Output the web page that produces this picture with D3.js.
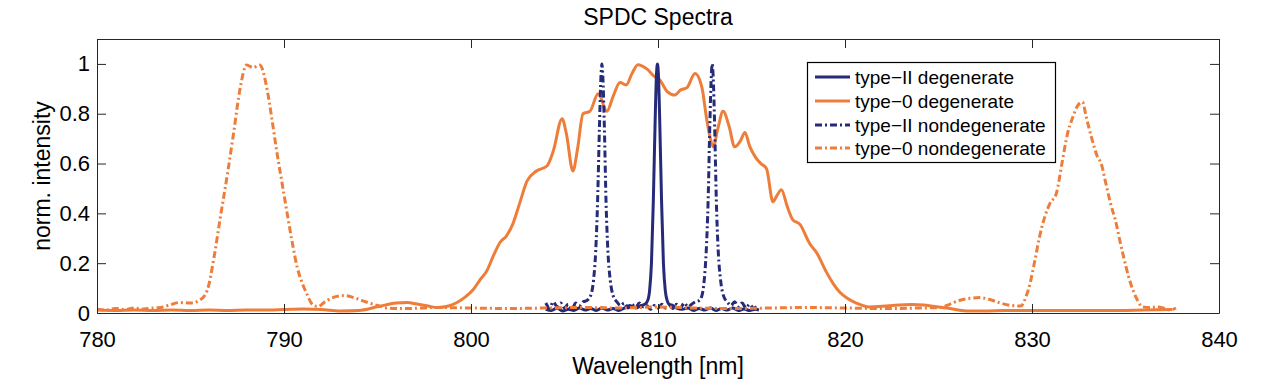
<!DOCTYPE html>
<html><head><meta charset="utf-8">
<script src="https://cdn.jsdelivr.net/npm/d3@7"></script>
<style>
body{margin:0;background:#fff;}
text{font-family:"Liberation Sans",Arial,sans-serif;fill:#000;}
</style></head>
<body><svg id="c" width="1267" height="382"></svg>
<script>
const title = "SPDC Spectra";
const xLabel = "Wavelength [nm]";
const yLabel = "norm. intensity";
const xTicks = [780, 790, 800, 810, 820, 830, 840];
const yTicks = [0, 0.2, 0.4, 0.6, 0.8, 1];
const seriesNames = ["type\u2212II degenerate", "type\u22120 degenerate", "type\u2212II nondegenerate", "type\u22120 nondegenerate"];

// [wavelength nm, normalized intensity]
const type0Degenerate = [
[780,0.012],[781,0.01],[782,0.012],[783,0.01],[784,0.012],[785,0.01],[786,0.012],[787,0.01],[788,0.012],[789,0.012],
[790,0.014],[791,0.016],[792,0.014],[793,0.008],[794,0.01],[795,0.025],[796,0.04],[796.6,0.042],[797.1,0.036],[797.7,0.028],
[798.2,0.022],[798.8,0.028],[799.25,0.042],[799.7,0.065],[800.1,0.092],[800.48,0.133],[800.85,0.17],[801.2,0.23],[801.55,0.283],
[801.9,0.31],[802.25,0.36],[802.6,0.44],[803.0,0.53],[803.5,0.57],[804.06,0.59],[804.4,0.65],[804.87,0.78],[805.1,0.72],
[805.45,0.57],[805.7,0.66],[805.99,0.8],[806.36,0.81],[806.8,0.88],[807.27,0.81],[807.6,0.87],[807.97,0.925],[808.3,0.915],
[808.6,0.96],[808.93,0.997],[809.4,0.98],[809.8,0.95],[810.1,0.935],[810.48,0.89],[810.9,0.875],[811.2,0.895],[811.55,0.905],
[811.98,0.962],[812.35,0.905],[812.6,0.78],[812.78,0.707],[812.95,0.667],[813.2,0.74],[813.48,0.81],[813.8,0.75],[814.1,0.667],
[814.4,0.69],[814.65,0.725],[814.9,0.67],[815.2,0.627],[815.5,0.6],[815.8,0.58],[816.15,0.446],[816.35,0.47],[816.6,0.495],
[816.9,0.43],[817.2,0.375],[817.6,0.355],[818.1,0.28],[818.5,0.24],[819.0,0.165],[819.35,0.12],[819.7,0.085],[820.1,0.06],
[820.6,0.04],[821.3,0.024],[822.0,0.027],[822.9,0.032],[823.6,0.034],[824.2,0.032],[824.8,0.026],[825.45,0.02],[826.5,0.008],
[827.5,0.008],[828.5,0.01],[830,0.01],[832,0.01],[834,0.01],[836,0.012],[837.5,0.014]
];

const type0Nondegenerate = [
[780,0.015],[780.5,0.012],[781,0.018],[781.5,0.014],[782,0.02],[782.5,0.016],[783,0.02],[783.4,0.022],[783.8,0.03],[784.4,0.042],
[785,0.04],[785.5,0.052],[785.9,0.092],[786.25,0.22],[786.6,0.386],[787.0,0.57],[787.3,0.72],[787.65,0.9],[788.0,0.996],
[788.35,0.985],[788.7,0.996],[789.1,0.896],[789.35,0.78],[789.6,0.655],[789.9,0.52],[790.2,0.386],[790.45,0.28],[790.7,0.185],
[790.95,0.125],[791.2,0.08],[791.55,0.032],[791.8,0.026],[792.2,0.045],[792.6,0.062],[793.2,0.07],[793.8,0.06],[794.4,0.044],
[795.0,0.03],[795.5,0.02],[796.5,0.018],[798,0.022],[800,0.02],[802,0.018],[804,0.02],[806,0.022],[808,0.02],[810,0.024],
[812,0.02],[814,0.018],[816,0.02],[818,0.022],[820,0.02],[822,0.018],[824,0.02],[825.1,0.022],[825.6,0.035],[826.1,0.05],
[826.6,0.058],[827.2,0.062],[827.7,0.055],[828.3,0.04],[828.9,0.03],[829.4,0.028],[829.7,0.07],[829.9,0.12],[830.15,0.21],
[830.4,0.305],[830.7,0.39],[830.96,0.44],[831.3,0.48],[831.6,0.6],[831.9,0.72],[832.15,0.78],[832.4,0.827],[832.7,0.847],
[832.9,0.787],[833.2,0.7],[833.5,0.627],[833.7,0.6],[833.95,0.52],[834.2,0.44],[834.5,0.36],[834.7,0.29],[834.9,0.225],
[835.15,0.15],[835.4,0.092],[835.65,0.05],[835.9,0.025],[836.3,0.022],[836.7,0.024],[837.1,0.018],[837.4,0.012],[837.7,0.02]
];

const type2Degenerate = [
[804.0,0.015],[804.3,0.01],[804.6,0.02],[804.9,0.008],[805.2,0.015],[805.5,0.01],[805.8,0.02],[806.1,0.012],[806.4,0.018],
[806.7,0.01],[807.0,0.02],[807.3,0.012],[807.6,0.018],[807.9,0.01],[808.2,0.02],[808.5,0.03],[808.8,0.02],[809.1,0.03],
[809.3,0.035],[809.45,0.05],[809.55,0.09],[809.65,0.2],[809.75,0.45],[809.85,0.78],[809.92,0.96],[809.97,1.0],[810.02,0.96],
[810.09,0.78],[810.19,0.45],[810.29,0.2],[810.39,0.09],[810.49,0.05],[810.6,0.035],[810.8,0.03],[811.0,0.02],[811.3,0.015],
[811.6,0.02],[811.9,0.01],[812.2,0.018],[812.5,0.012],[812.8,0.02],[813.1,0.01],[813.4,0.018],[813.7,0.012],[814.0,0.02],
[814.3,0.01],[814.6,0.016],[814.9,0.01],[815.2,0.015],[815.4,0.012]
];

const type2Nondegenerate = [
[804.0,0.04],[804.2,0.02],[804.4,0.045],[804.6,0.025],[804.8,0.04],[805.0,0.02],[805.2,0.035],[805.4,0.015],[805.6,0.04],
[805.8,0.03],[806.0,0.045],[806.2,0.05],[806.4,0.07],[806.55,0.13],[806.67,0.25],[806.77,0.45],[806.87,0.75],[806.95,0.95],
[807.0,1.0],[807.05,0.95],[807.13,0.75],[807.22,0.45],[807.32,0.25],[807.45,0.13],[807.6,0.07],[807.8,0.045],[808.0,0.03],
[808.2,0.04],[808.4,0.02],[808.6,0.035],[808.8,0.02],[809.0,0.04],[809.2,0.025],[809.4,0.03],[809.6,0.015],[809.8,0.03],
[810.0,0.02],[810.2,0.035],[810.4,0.02],[810.6,0.03],[810.8,0.018],[811.0,0.035],[811.2,0.02],[811.4,0.04],[811.6,0.025],
[811.8,0.035],[812.0,0.045],[812.2,0.05],[812.35,0.07],[812.47,0.13],[812.58,0.25],[812.68,0.45],[812.77,0.75],[812.85,0.95],
[812.9,1.0],[812.95,0.95],[813.03,0.75],[813.12,0.45],[813.22,0.25],[813.35,0.13],[813.5,0.07],[813.7,0.045],[813.9,0.03],
[814.1,0.045],[814.3,0.025],[814.5,0.04],[814.7,0.02],[814.9,0.035],[815.1,0.02],[815.4,0.03]
];

const navy = "#262b79", orange = "#ef7d3a";
const dashDot = "7,3,2,3";
const series = [
  {name: seriesNames[1], data: type0Degenerate, color: orange, dash: null, w: 3},
  {name: seriesNames[0], data: type2Degenerate, color: navy, dash: null, w: 3},
  {name: seriesNames[2], data: type2Nondegenerate, color: navy, dash: dashDot, w: 3},
  {name: seriesNames[3], data: type0Nondegenerate, color: orange, dash: dashDot, w: 3}
];

const svg = d3.select("#c");
const L = 97, R = 1219, T = 39, B = 313;
const x = d3.scaleLinear().domain([780, 840]).range([L, R]);
const y = d3.scaleLinear().domain([0, 1.1]).range([B, T]);

svg.append("defs").append("clipPath").attr("id", "pc")
  .append("rect").attr("x", L).attr("y", T).attr("width", R - L).attr("height", B - T);

const line = d3.line().x(d => x(d[0])).y(d => y(d[1])).curve(d3.curveMonotoneX);
const g = svg.append("g").attr("clip-path", "url(#pc)");
series.forEach(s => {
  g.append("path").datum(s.data).attr("d", line)
    .attr("fill", "none").attr("stroke", s.color).attr("stroke-width", s.w)
    .attr("stroke-linejoin", "round")
    .attr("stroke-dasharray", s.dash);
});

const axCol = "#262626", tickLen = 9;
const fmt = d => d === 0 || d === 1 ? String(d) : d3.format(".1f")(d);
const ax = svg.append("g");
ax.append("g").attr("transform", `translate(0,${B})`)
  .call(d3.axisBottom(x).tickValues(xTicks).tickSizeInner(-tickLen).tickSizeOuter(0).tickPadding(18).tickFormat(d3.format("d")));
ax.append("g").attr("transform", `translate(0,${T})`)
  .call(d3.axisTop(x).tickValues(xTicks).tickSizeInner(-tickLen).tickSizeOuter(0).tickFormat(""));
ax.append("g").attr("transform", `translate(${L},0)`)
  .call(d3.axisLeft(y).tickValues(yTicks).tickSizeInner(-tickLen).tickSizeOuter(0).tickPadding(7).tickFormat(fmt));
ax.append("g").attr("transform", `translate(${R},0)`)
  .call(d3.axisRight(y).tickValues(yTicks).tickSizeInner(-tickLen).tickSizeOuter(0).tickFormat(""));
ax.selectAll(".domain").attr("stroke", axCol);
ax.selectAll(".tick line").attr("stroke", axCol);
ax.selectAll(".tick text").attr("font-size", 22).attr("font-family", "Liberation Sans, Arial, sans-serif").attr("fill", "#000");

svg.append("text").attr("x", (L + R) / 2).attr("y", 25).attr("text-anchor", "middle").attr("font-size", 23).text(title);
svg.append("text").attr("x", (L + R) / 2).attr("y", 374).attr("text-anchor", "middle").attr("font-size", 23).text(xLabel);
svg.append("text").attr("transform", `translate(50,${(T + B) / 2}) rotate(-90)`).attr("text-anchor", "middle").attr("font-size", 23).text(yLabel);

// legend, in the order of seriesNames
const lg = svg.append("g");
lg.append("rect").attr("x", 807.5).attr("y", 62.5).attr("width", 248).attr("height", 100)
  .attr("fill", "#fff").attr("stroke", "#000").attr("stroke-width", 1.2);
const rowY = [77, 101, 125, 148];
seriesNames.forEach((nm, i) => {
  const s = series.find(d => d.name === nm);
  lg.append("line").attr("x1", 815).attr("x2", 850).attr("y1", rowY[i]).attr("y2", rowY[i])
    .attr("stroke", s.color).attr("stroke-width", s.w).attr("stroke-dasharray", s.dash);
  lg.append("text").attr("x", 855).attr("y", rowY[i] + 6.5).attr("font-size", 19).text(nm);
});
</script></body></html>
